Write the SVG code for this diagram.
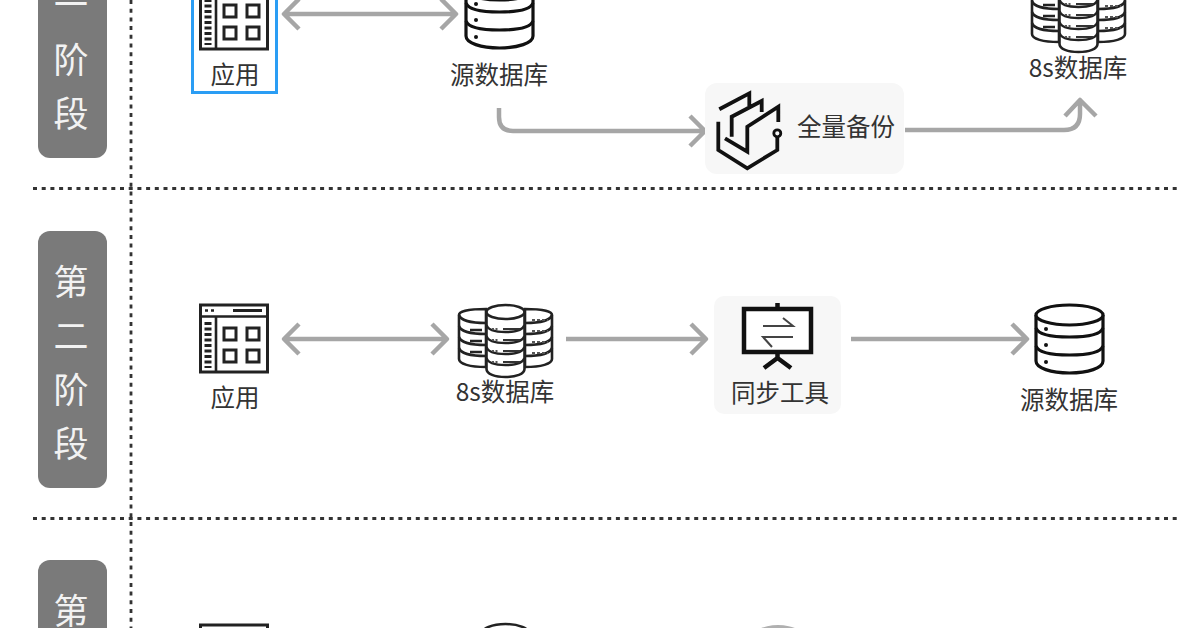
<svg xmlns="http://www.w3.org/2000/svg" width="1200" height="628" viewBox="0 0 1200 628">
<style>
.lbl{font-family:"Noto Sans CJK SC","Noto Sans",sans-serif;font-size:24.500px;fill:#333;text-anchor:middle}
.stage{font-family:"Noto Sans CJK SC","Noto Sans",sans-serif;font-size:35px;fill:#f2f2f2;text-anchor:middle;font-weight:400}
.pill{fill:#7a7a7a}
.tool{fill:#f7f7f7}
.ln{fill:none;stroke:#222;stroke-width:2.600}
.ln2{fill:none;stroke:#111;stroke-width:3.800;stroke-linejoin:miter}
.wh{fill:#fff;stroke:#222;stroke-width:2.600}
.arrow{fill:none;stroke:#a6a6a6;stroke-width:4.500;stroke-linejoin:round}
.dots{fill:none;stroke:#333;stroke-width:2.800;stroke-dasharray:4 4.700}
</style>
<defs>
<symbol id="app" overflow="visible" viewBox="0 0 1200 628" width="1200" height="628">
<rect x="200.500" y="305" width="67" height="67" class="ln" style="stroke-width:3"/>
<path class="ln" d="M200.500 316.500H267.500M216 316.500V372"/>
<path d="M205 310.500h3M211 310.500h3" stroke="#222" stroke-width="2.500" fill="none"/>
<path d="M233 310.500H262" stroke="#222" stroke-width="3" fill="none"/>
<path d="M208 322V368" stroke="#222" stroke-width="7" stroke-dasharray="3 2.500" fill="none"/>
<rect x="224" y="328" width="12" height="12" class="ln" style="stroke-width:3"/>
<rect x="247" y="328" width="12" height="12" class="ln" style="stroke-width:3"/>
<rect x="224" y="350" width="12" height="12" class="ln" style="stroke-width:3"/>
<rect x="247" y="350" width="12" height="12" class="ln" style="stroke-width:3"/>
</symbol>
<symbol id="db" overflow="visible" viewBox="0 0 1200 628" width="1200" height="628">
<path d="M1036 315V361C1036 368 1051 373 1069.500 373S1103 368 1103 361V315" fill="#fff" stroke="#111" stroke-width="3.200"/>
<ellipse cx="1069.500" cy="315" rx="33.500" ry="10" fill="#fff" stroke="#111" stroke-width="3.200"/>
<path d="M1036 328C1038 334 1051 337 1069.500 337S1101 334 1103 328M1036 346C1038 352 1051 355 1069.500 355S1101 352 1103 346" fill="none" stroke="#111" stroke-width="3.200"/>
<circle cx="1046" cy="329" r="2" fill="#111"/><circle cx="1046" cy="345" r="2" fill="#111"/><circle cx="1046" cy="362" r="2" fill="#111"/>
</symbol>
<symbol id="stack" overflow="visible" viewBox="0 0 1200 628" width="1200" height="628">
<path class="wh" d="M459 315V359C459 364 470 367 486 367V309C470 309 459 311 459 315Z"/>
<path class="wh" d="M552 315V359C552 364 541 367 525 367V309C541 309 552 311 552 315Z"/>
<path class="ln" d="M459 315C461 321 472 323 486 323M552 315C550 321 539 323 525 323M459 326C461 332 472 334 486 334M552 326C550 332 539 334 525 334M459 337C461 343 472 345 486 345M552 337C550 343 539 345 525 345M459 348C461 354 472 356 486 356M552 348C550 354 539 356 525 356"/>
<path d="M470 330H482M470 341H482M470 352H482" class="ln"/>
<path d="M532 320h16M532 331h16M532 342h16M532 353h16" stroke="#555" stroke-width="2" stroke-dasharray="3 2" fill="none"/>
<path class="wh" d="M486.500 312V369C486.500 374 495 377 505.500 377S524.500 374 524.500 369V312"/>
<ellipse cx="505.500" cy="312" rx="19" ry="7" class="wh"/>
<path class="ln" d="M486.500 325C488 330 496 332 505.500 332S523 330 524.500 325M486.500 336C488 341 496 343 505.500 343S523 341 524.500 336M486.500 347C488 352 496 354 505.500 354S523 352 524.500 347M486.500 358C488 363 496 365 505.500 365S523 363 524.500 358"/>
<path d="M492 329h7M492 340h7M492 351h7M492 362h7" stroke="#555" stroke-width="2" stroke-dasharray="2 1.500" fill="none"/>
<path d="M503 329h17M503 340h17M503 351h17M503 362h17" stroke="#333" stroke-width="2" fill="none"/>
</symbol>
</defs>

<g id="grid">
<path class="dots" d="M131 0V628"/>
<path class="dots" d="M33 188.500H1178"/>
<path class="dots" d="M33 518.500H1178"/>
</g>

<g id="connectors">
<path class="arrow" d="M284 14H456M299 -1L284 14L299 29M441 -1L456 14L441 29"/>
<path class="arrow" d="M499 108V117Q499 131 513 131H705M690 116L705 131L690 146"/>
<path class="arrow" d="M905 130H1064Q1080 130 1080 114V100M1065 116L1080 100L1096 116"/>
<path class="arrow" d="M284 339H447M299 324L284 339L299 354M432 324L447 339L432 354"/>
<path class="arrow" d="M566 339H706M691 324L706 339L691 354"/>
<path class="arrow" d="M851 339H1027M1012 324L1027 339L1012 354"/>
</g>

<g id="stage1">
<rect class="pill" x="38" y="-99" width="69" height="257" rx="12"/>
<text class="stage" x="71" y="6">二</text>
<text class="stage" x="71" y="73">阶</text>
<text class="stage" x="71" y="127">段</text>
</g>
<g id="stage2">
<rect class="pill" x="38" y="231" width="69" height="257" rx="12"/>
<text class="stage" x="71" y="295">第</text>
<text class="stage" x="71" y="349">二</text>
<text class="stage" x="71" y="403">阶</text>
<text class="stage" x="71" y="457">段</text>
</g>
<g id="stage3">
<rect class="pill" x="38" y="560" width="69" height="257" rx="12"/>
<text class="stage" x="71" y="624">第</text>
</g>

<g id="s1-app">
<rect x="192.500" y="-20" width="84" height="112.500" fill="none" stroke="#2a9df4" stroke-width="3"/>
<use href="#app" y="-323"/>
<text class="lbl" x="235" y="84">应用</text>
</g>
<g id="s1-source-db">
<use href="#db" x="-570" y="-325"/>
<text class="lbl" x="499" y="84">源数据库</text>
</g>
<g id="s1-backup">
<rect class="tool" x="705" y="83" width="199" height="91" rx="12"/>
<path class="ln2" d="M719.300 109.300L749.300 93.300V107M731.700 136.700V116.700L761.700 101V112M725 138.300L747.300 151.700V126.700L778.300 106.700V122M718.300 121.700V150L747.300 168.300L777.300 150V137"/>
<circle cx="777.300" cy="133.300" r="3.500" fill="none" stroke="#111" stroke-width="2.800"/>
<text class="lbl" x="846" y="136">全量备份</text>
</g>
<g id="s1-8s-db">
<use href="#stack" x="573" y="-325"/>
<text class="lbl" x="1078" y="77">8s数据库</text>
</g>

<g id="s2-app">
<use href="#app"/>
<text class="lbl" x="235" y="407">应用</text>
</g>
<g id="s2-8s-db">
<use href="#stack"/>
<text class="lbl" x="505" y="401">8s数据库</text>
</g>
<g id="s2-sync">
<rect class="tool" x="714" y="296" width="127" height="118" rx="10"/>
<rect x="744" y="309" width="67" height="43" fill="#fff" stroke="#111" stroke-width="4.500"/>
<path d="M777.500 303V309M777.500 352V358M777.500 358L764 368M777.500 358L791 368" fill="none" stroke="#111" stroke-width="4.500"/>
<path d="M763 326H793L783 318M793 337H763L772 347" fill="none" stroke="#444" stroke-width="2"/>
<text class="lbl" x="780" y="402">同步工具</text>
</g>
<g id="s2-source-db">
<use href="#db"/>
<text class="lbl" x="1069" y="409">源数据库</text>
</g>

<g id="s3-app">
<use href="#app" y="320"/>
</g>
<g id="s3-db">
<ellipse cx="505.500" cy="634" rx="24" ry="10" fill="#fff" stroke="#222" stroke-width="2.500"/>
</g>
<g id="s3-tool">
<ellipse cx="778" cy="640" rx="28" ry="15" fill="#b0b0b0"/>
</g>
</svg>
